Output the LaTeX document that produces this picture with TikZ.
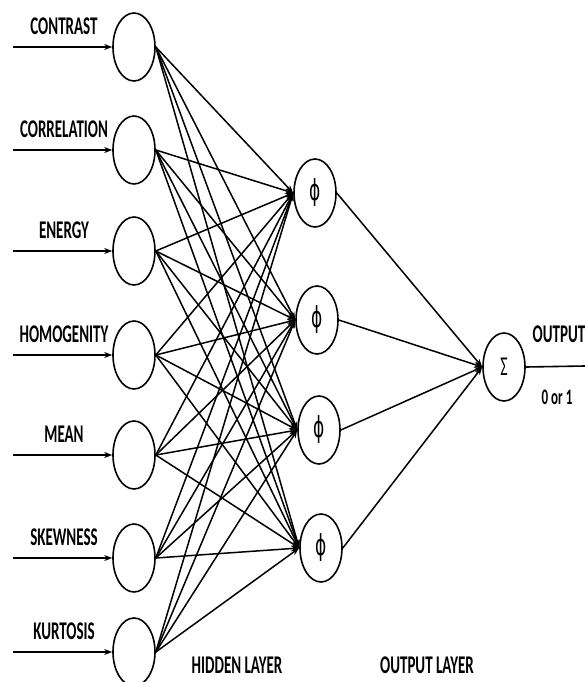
\documentclass[tikz,border=0pt]{standalone}
\usepackage{fontspec}
\usepackage{graphicx}
\setmainfont{Carlito}
\newfontfamily\greekfont{DejaVu Sans}
\usetikzlibrary{shapes.geometric,arrows.meta}
\newcommand{\tall}[1]{\scalebox{1}[1.7]{#1}}
\begin{document}
\begin{tikzpicture}[x=1pt,y=-1pt,
	neuron/.style={draw,ellipse,line width=1.6pt,minimum width=42pt,minimum height=68pt,inner sep=0pt},
	link/.style={line width=1.5pt,-{Stealth[length=8pt,width=6pt]}},
	lbl/.style={font=\fontsize{15}{15}\selectfont\bfseries,inner sep=0pt}]
	\useasboundingbox (0,0) rectangle (585,682);
	% lop vao
	\foreach \name/\y [count=\i] in {CONTRAST/47,CORRELATION/150,ENERGY/251,HOMOGENITY/355,MEAN/455,SKEWNESS/558,KURTOSIS/652}
	{
		\node[neuron] (I\i) at (134,\y) {};
		\coordinate (S\i) at (13,\y);
		\draw[link,line width=2pt] (S\i)--(I\i);
		\node[lbl] (L\i) at (64,\y-21) {\tall{\name}};
	}
	% lop an
	\foreach \y [count=\j] in {193,320,430,548}
	\node[neuron,font=\fontsize{17}{17}\greekfont] (H\j) at ({313+2*\j},\y) {\tall{ϕ}};
	% lop ra
	\node[neuron,font=\fontsize{16}{16}\selectfont] (O) at (504,367) {\tall{Σ}};
	\coordinate (E) at (585,366);
	\foreach \i in {1,...,7}
	\foreach \j in {1,...,4}
	\draw[link] (I\i.east)--(H\j.west);
	\foreach \j in {1,...,4}
	\draw[link] (H\j.east)--(O.west);
	\draw[line width=1.6pt] (O.east)--(E);
	\node[lbl] (out) at (559,334) {\tall{OUTPUT}};
	\node[lbl,font=\fontsize{13}{13}\selectfont\bfseries] (bin) at (557,397) {\tall{0 or 1}};
	\node[lbl] (hid) at (237,665) {\tall{HIDDEN LAYER}};
	\node[lbl] (ol) at (427,665) {\tall{OUTPUT LAYER}};
\end{tikzpicture}
\end{document}
